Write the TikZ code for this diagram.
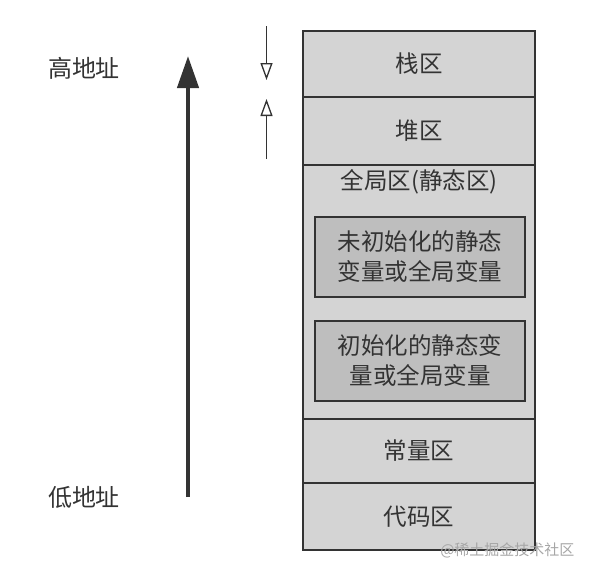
\documentclass[tikz,border=0pt]{standalone}
\usepackage{fontspec}
\setmainfont{Noto Sans CJK SC}
\usetikzlibrary{arrows.meta}
\definecolor{segfill}{HTML}{D4D4D4}
\definecolor{innerfill}{HTML}{BEBEBE}
\definecolor{edge}{HTML}{333333}
\definecolor{txt}{HTML}{333333}
\tikzset{
  seg/.style={draw=edge, line width=2pt, fill=segfill, minimum width=232pt, inner sep=0pt, text=txt, font=\fontsize{23.5}{28}\selectfont},
  innerbox/.style={draw=edge, line width=1.8pt, fill=innerfill, minimum width=210pt, minimum height=80pt, inner sep=0pt, align=center, text=txt, font=\fontsize{23.5}{30}\selectfont},
  lbl/.style={text=txt, font=\fontsize{24}{28}\selectfont},
  bigarrow/.style={draw=edge, line width=4.3pt, -{Triangle[length=32pt,width=21pt]}},
  smallarrow/.style={draw=edge, line width=1.3pt, -{Triangle[open,length=17pt,width=12pt,fill=white]}},
}
\begin{document}
\begin{tikzpicture}[x=1pt,y=-1pt]
\useasboundingbox (0,0) rectangle (592,576);
% column segments
\node[seg, minimum height=66pt] (stack) at (419,63.7) {栈区};
\node[seg, minimum height=68pt] (heap) at (419,130.7) {堆区};
\node[seg, minimum height=254.3pt] (global) at (419,291.85) {};
\node[seg, minimum height=63.7pt] (const) at (419,450.85) {常量区};
\node[seg, minimum height=67.3pt] (code) at (419,516.35) {代码区};
\node[lbl, font=\fontsize{23.5}{28}\selectfont] (globallbl) at (419,181.5) {全局区(静态区)};
\node[innerbox] (uninit) at (420,256.7) {未初始化的静态\\变量或全局变量};
\node[innerbox] (init) at (420,360.85) {初始化的静态变\\量或全局变量};
% address arrow
\coordinate (low) at (188,497);
\coordinate (high) at (188,56);
\draw[bigarrow] (low) -- (high);
\node[lbl] (highlbl) at (84,68) {高地址};
\node[lbl] (lowlbl) at (84,497) {低地址};
% growth arrows
\coordinate (sdtop) at (266.5,26);
\coordinate (sdtip) at (266.5,80);
\coordinate (hubot) at (266.5,159);
\coordinate (hutip) at (266.5,99);
\draw[smallarrow] (sdtop) -- (sdtip);
\draw[smallarrow] (hubot) -- (hutip);
% watermark
\node[text=black!35, font=\fontsize{15}{18}\selectfont, anchor=east] (wm) at (578,550) {@稀土掘金技术社区};
\end{tikzpicture}
\end{document}
